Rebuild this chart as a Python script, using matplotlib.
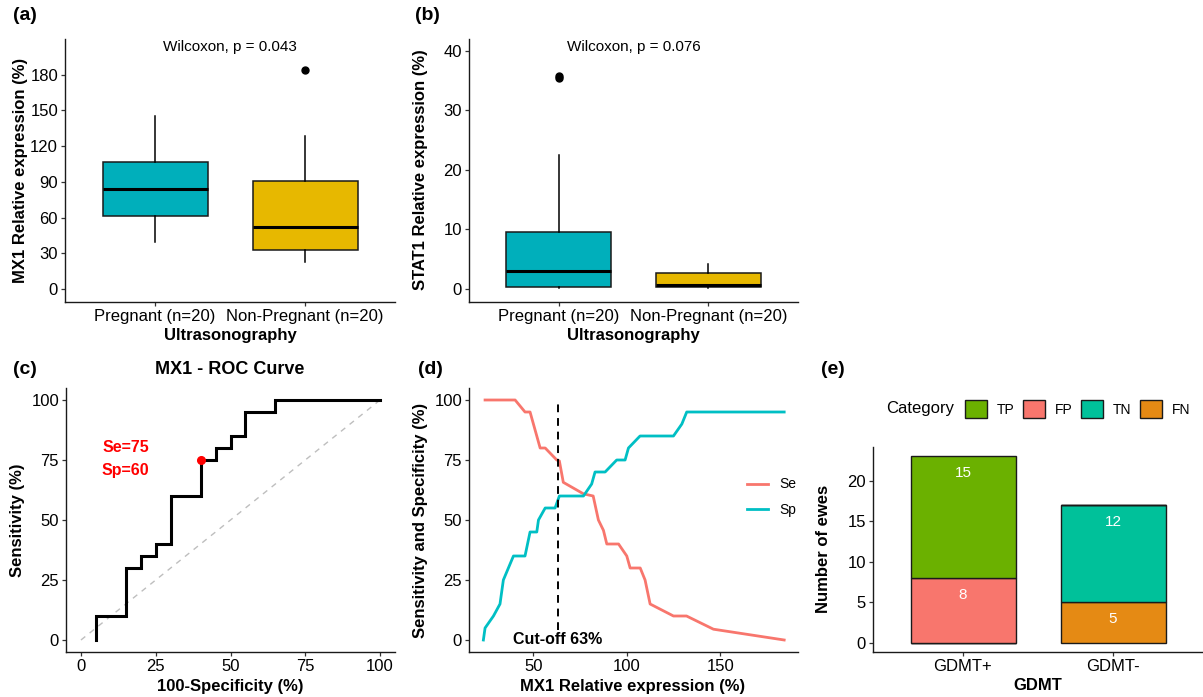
import matplotlib
matplotlib.use('Agg')
import matplotlib.pyplot as plt
from matplotlib.patches import Patch
from matplotlib.lines import Line2D

plt.rcParams['font.family'] = ['Liberation Sans', 'DejaVu Sans']

# ---- data ----
groups = ['Pregnant (n=20)', 'Non-Pregnant (n=20)']
box_colors = ['#00AFBB', '#E7B800']

# (a) MX1 box stats
mx1_low = [39.6, 23.2]
mx1_q1 = [61.5, 33.0]
mx1_med = [83.9, 52.0]
mx1_q3 = [107.0, 90.9]
mx1_high = [145.6, 128.9]
mx1_out = [[], [184.0]]

# (b) STAT1 box stats
stat1_low = [0.2, 0.1]
stat1_q1 = [0.35, 0.3]
stat1_med = [3.0, 0.65]
stat1_q3 = [9.5, 2.75]
stat1_high = [22.5, 4.2]
stat1_out = [[35.4, 35.8], []]

# (c) ROC curve
roc_fpr = [5, 5, 15, 15, 20, 20, 25, 25, 30, 30, 40, 40, 45, 45, 50, 50, 55, 55, 65, 65, 100]
roc_tpr = [0, 10, 10, 30, 30, 35, 35, 40, 40, 60, 60, 75, 75, 80, 80, 85, 85, 95, 95, 100, 100]
best_fpr, best_tpr = 40, 75

# (d) Se / Sp versus threshold
se_x = [24.1, 40.2, 45.5, 48.2, 53.6, 56.3, 62.5, 63.9, 66.0, 76.8, 82.0, 84.8, 87.5, 89.3,
        95.6, 100.0, 101.8, 107.2, 109.8, 112.5, 125.0, 132.0, 146.4, 184.3]
se_y = [100, 100, 95, 95, 80, 80, 75, 74.6, 65.7, 60.9, 60, 50, 45.7, 40,
        40, 35, 30, 30, 25, 15, 10, 10, 4.5, 0]
sp_x = [23.2, 24.1, 28.6, 32.1, 33.9, 39.3, 45.5, 48.2, 51.8, 52.7, 56.3, 61.6, 63.9, 76.8,
        81.2, 83.0, 88.4, 94.6, 99.1, 100.9, 107.1, 125.0, 129.5, 132.1, 184.3]
sp_y = [0, 5, 10, 15, 25, 35, 35, 45, 45, 50, 55, 55, 60, 60,
        65, 70, 70, 75, 75, 80, 85, 85, 90, 95, 95]
cutoff = 63

# (e) stacked counts
gdmt = ['GDMT+', 'GDMT-']
categories = ['TP', 'FP', 'TN', 'FN']
cat_colors = ['#6BB100', '#F8766D', '#00C19A', '#E58A14']
counts = {'TP': [15, 0], 'FP': [8, 0], 'TN': [0, 12], 'FN': [0, 5]}
stack_order = ['FN', 'TN', 'FP', 'TP']  # bottom to top

W, H = 1203, 697
fig = plt.figure(figsize=(W / 100, H / 100), dpi=100)


def axes_px(l, t, r, b):
    return fig.add_axes([l / W, 1 - b / H, (r - l) / W, (b - t) / H])


def ftext(x, y, s, **kw):
    kw.setdefault('ha', 'center')
    kw.setdefault('va', 'center')
    fig.text(x / W, 1 - y / H, s, **kw)


def style(ax):
    for s in ['top', 'right']:
        ax.spines[s].set_visible(False)
    for s in ['left', 'bottom']:
        ax.spines[s].set_linewidth(1.0)
        ax.spines[s].set_color('#1a1a1a')
    ax.tick_params(length=3, width=0.9, pad=2, labelsize=12, color='#333333',
                   labelcolor='black')


def draw_box(ax, low, q1, med, q3, high, out):
    stats = []
    for i in range(len(groups)):
        stats.append(dict(whislo=low[i], q1=q1[i], med=med[i], q3=q3[i],
                          whishi=high[i], fliers=out[i]))
    res = ax.bxp(stats, positions=[1, 2], widths=0.7, patch_artist=True,
                 showcaps=False,
                 boxprops=dict(linewidth=1.1, edgecolor='#1a1a1a'),
                 medianprops=dict(color='black', linewidth=2.2),
                 whiskerprops=dict(linewidth=1.1, color='black'),
                 flierprops=dict(marker='o', markerfacecolor='black',
                                 markeredgecolor='black', markersize=5))
    for patch, c in zip(res['boxes'], box_colors):
        patch.set_facecolor(c)
    ax.set_xticks([1, 2], groups)
    ax.set_xlim(0.4, 2.6)


# ---- (a) ----
ax_a = axes_px(65, 39, 395, 302)
style(ax_a)
draw_box(ax_a, mx1_low, mx1_q1, mx1_med, mx1_q3, mx1_high, mx1_out)
ax_a.set_ylim(-10.7, 210)
ax_a.set_yticks([0, 30, 60, 90, 120, 150, 180])
ax_a.text(1.5, 203.5, 'Wilcoxon, p = 0.043', ha='center', va='center', fontsize=11)
ftext(21, 170, 'MX1 Relative expression (%)', rotation=90, fontsize=12, fontweight='bold')
ftext(230, 335, 'Ultrasonography', fontsize=12, fontweight='bold')
ftext(25, 15, '(a)', fontsize=14, fontweight='bold')

# ---- (b) ----
ax_b = axes_px(469, 39, 798, 302)
style(ax_b)
draw_box(ax_b, stat1_low, stat1_q1, stat1_med, stat1_q3, stat1_high, stat1_out)
ax_b.set_ylim(-2.2, 42)
ax_b.set_yticks([0, 10, 20, 30, 40])
ax_b.text(1.5, 40.6, 'Wilcoxon, p = 0.076', ha='center', va='center', fontsize=11)
ftext(421, 170, 'STAT1 Relative expression (%)', rotation=90, fontsize=12, fontweight='bold')
ftext(633, 335, 'Ultrasonography', fontsize=12, fontweight='bold')
ftext(427, 15, '(b)', fontsize=14, fontweight='bold')

# ---- (c) ----
ax_c = axes_px(66, 388, 395, 652)
style(ax_c)
ax_c.plot([0, 100], [0, 100], color='#BEBEBE', linestyle=(0, (4, 4)), linewidth=1)
ax_c.plot(roc_fpr, roc_tpr, color='black', linewidth=2.2, solid_joinstyle='miter')
ax_c.plot(best_fpr, best_tpr, 'o', color='red', markersize=5.5)
ax_c.text(15, 80, 'Se=75', color='red', fontsize=11.5, fontweight='bold', ha='center', va='center')
ax_c.text(15, 70.5, 'Sp=60', color='red', fontsize=11.5, fontweight='bold', ha='center', va='center')
ax_c.set_xlim(-5, 105)
ax_c.set_ylim(-5, 105)
ax_c.set_xticks([0, 25, 50, 75, 100])
ax_c.set_yticks([0, 25, 50, 75, 100])
ftext(230, 369, 'MX1 - ROC Curve', fontsize=13, fontweight='bold')
ftext(18, 520, 'Sensitivity (%)', rotation=90, fontsize=12, fontweight='bold')
ftext(230, 687, '100-Specificity (%)', fontsize=12, fontweight='bold')
ftext(25, 369, '(c)', fontsize=14, fontweight='bold')

# ---- (d) ----
ax_d = axes_px(469, 388, 798, 652)
style(ax_d)
ax_d.plot(se_x, se_y, color='#F8766D', linewidth=2.0)
ax_d.plot(sp_x, sp_y, color='#00BFC4', linewidth=2.0)
ax_d.plot([cutoff, cutoff], [4, 100], color='black', linestyle=(0, (4, 3)), linewidth=1.4)
ax_d.text(cutoff, 0, 'Cut-off 63%', fontsize=11.5, fontweight='bold', ha='center', va='center')
ax_d.set_xlim(15.5, 191.7)
ax_d.set_ylim(-5, 105)
ax_d.set_xticks([50, 100, 150])
ax_d.set_yticks([0, 25, 50, 75, 100])
leg_d = [Line2D([], [], color='#F8766D', linewidth=2.0),
         Line2D([], [], color='#00BFC4', linewidth=2.0)]
ax_d.legend(leg_d, ['Se', 'Sp'], loc='center left', bbox_to_anchor=(740 / W, 1 - 497 / H),
            bbox_transform=fig.transFigure, frameon=False, fontsize=10,
            handlelength=1.5, labelspacing=0.8, borderpad=0, handletextpad=0.8)
ftext(421, 520, 'Sensitivity and Specificity (%)', rotation=90, fontsize=12, fontweight='bold')
ftext(633, 687, 'MX1 Relative expression (%)', fontsize=12, fontweight='bold')
ftext(430, 369, '(d)', fontsize=14, fontweight='bold')

# ---- (e) ----
ax_e = axes_px(873, 447, 1203, 652)
style(ax_e)
color_of = dict(zip(categories, cat_colors))
bottoms = [0, 0]
pos = [1, 2]
for cat in stack_order:
    vals = counts[cat]
    ax_e.bar(pos, vals, width=0.7, bottom=bottoms, color=color_of[cat],
             edgecolor='#1a1a1a', linewidth=1.0)
    for i, v in enumerate(vals):
        if v > 0:
            ax_e.text(pos[i], bottoms[i] + v - 2.1, str(v), color='white',
                      fontsize=11, ha='center', va='center')
    bottoms = [b + v for b, v in zip(bottoms, vals)]
ax_e.set_xlim(0.4, 2.6)
ax_e.set_ylim(-1.15, 24.15)
ax_e.set_xticks(pos, gdmt)
ax_e.set_yticks([0, 5, 10, 15, 20])
leg_e = [Patch(facecolor=c, edgecolor='#1a1a1a', linewidth=1.0) for c in cat_colors]
fig.legend(leg_e, categories, loc='center left', bbox_to_anchor=(958 / W, 1 - 409 / H),
           ncol=4, frameon=False, fontsize=10, handlelength=1.6, handleheight=1.6,
           handletextpad=0.7, columnspacing=0.6, borderpad=0)
ftext(886, 409, 'Category', fontsize=12, ha='left')
ftext(823, 549, 'Number of ewes', rotation=90, fontsize=12, fontweight='bold')
ftext(1038, 686, 'GDMT', fontsize=12, fontweight='bold')
ftext(833, 369, '(e)', fontsize=14, fontweight='bold')

fig.savefig('out.png', dpi=100)
